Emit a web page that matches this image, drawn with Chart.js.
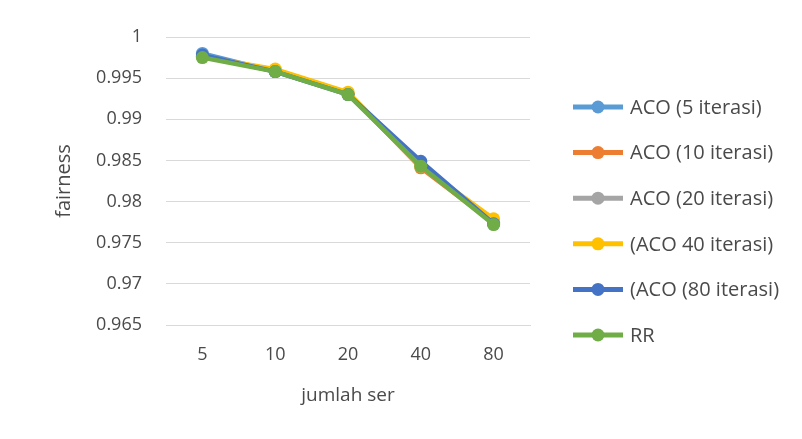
<!doctype html>
<html lang="en">
<head>
<meta charset="utf-8">
<title>fairness</title>
<script src="https://cdn.jsdelivr.net/npm/chart.js@4.4.1/dist/chart.umd.min.js"></script>
<style>
  html, body { margin: 0; padding: 0; background: #fff; }
  #wrap { width: 802px; height: 439px; position: relative; }
</style>
</head>
<body>
<div id="wrap"><canvas id="myChart"></canvas></div>
<script>
var labels = ['5', '10', '20', '40', '80']
var seriesNames = ['ACO (5 iterasi)', 'ACO (10 iterasi)', 'ACO (20 iterasi)', '(ACO 40 iterasi)', '(ACO (80 iterasi)', 'RR']
var aco5  = [0.9980, 0.9958, 0.9931, 0.9846, 0.9773]
var aco10 = [0.9976, 0.9960, 0.9932, 0.9841, 0.9774]
var aco20 = [0.9976, 0.9959, 0.9931, 0.9843, 0.9775]
var aco40 = [0.9976, 0.9961, 0.9933, 0.9843, 0.9779]
var aco80 = [0.9978, 0.9958, 0.9930, 0.9849, 0.9773]
var rr    = [0.9975, 0.9958, 0.9930, 0.9843, 0.9772]
var yTicks = [1, 0.995, 0.99, 0.985, 0.98, 0.975, 0.97, 0.965]

var colors = ['#5B9BD5', '#ED7D31', '#A5A5A5', '#FFC000', '#4472C4', '#70AD47']
var allData = [aco5, aco10, aco20, aco40, aco80, rr]
var FONT = "'Open Sans', sans-serif"

var datasets = allData.map(function(d, i){
    return {
        label: seriesNames[i],
        data: d,
        borderColor: colors[i],
        backgroundColor: colors[i],
        borderWidth: 4.5,
        pointRadius: 6.5,
        pointHoverRadius: 6.5,
        pointBorderWidth: 0,
        tension: 0,
        order: 6 - i
    }
})

// legend on the right: line with a dot in the middle, like the office chart
var sideLegend = {
    id: 'sideLegend',
    afterDraw: function(chart){
        var ctx = chart.ctx
        var x0 = 573, x1 = 623, y0 = 107, gap = 45.6
        ctx.save()
        chart.data.datasets.forEach(function(ds, i){
            var y = y0 + i * gap
            ctx.strokeStyle = ds.borderColor
            ctx.lineWidth = 5
            ctx.beginPath(); ctx.moveTo(x0, y); ctx.lineTo(x1, y); ctx.stroke()
            ctx.fillStyle = ds.borderColor
            ctx.beginPath(); ctx.arc((x0 + x1) / 2, y, 6.5, 0, Math.PI * 2); ctx.fill()
            ctx.fillStyle = '#4a4a4a'
            ctx.font = '20px ' + FONT
            ctx.textBaseline = 'middle'
            ctx.fillText(ds.label, 630, y + 1)
        })
        ctx.restore()
    }
}

var chart = new Chart(document.getElementById('myChart').getContext('2d'), {
    type: 'line',
    data: { labels: labels, datasets: datasets },
    options: {
        responsive: true,
        maintainAspectRatio: false,
        animation: false,
        layout: { padding: { left: 48, right: 272, top: 37, bottom: 28 } },
        plugins: { legend: { display: false }, tooltip: { enabled: false } },
        scales: {
            x: {
                offset: true,
                afterFit: function(s){ s.height = 86 },
                grid: { display: false, drawTicks: false },
                border: { color: '#d9d9d9', width: 1 },
                ticks: { color: '#4a4a4a', font: { family: FONT, size: 18 }, padding: 19 },
                title: { display: true, text: 'jumlah ser', color: '#4a4a4a', font: { family: FONT, size: 19 }, padding: { top: 14 } }
            },
            y: {
                min: 0.965,
                max: 1,
                afterFit: function(s){ s.width = 118 },
                afterBuildTicks: function(s){ s.ticks = yTicks.map(function(v){ return { value: v } }) },
                grid: { color: '#d9d9d9', lineWidth: 1, drawTicks: false },
                border: { display: false },
                ticks: {
                    color: '#4a4a4a',
                    font: { family: FONT, size: 18 },
                    padding: 24,
                    callback: function(v){ return String(Math.round(v * 1000) / 1000) }
                },
                title: { display: true, text: 'fairness', color: '#4a4a4a', font: { family: FONT, size: 20 }, padding: { bottom: 8 } }
            }
        }
    },
    plugins: [sideLegend]
})
</script>
</body>
</html>
